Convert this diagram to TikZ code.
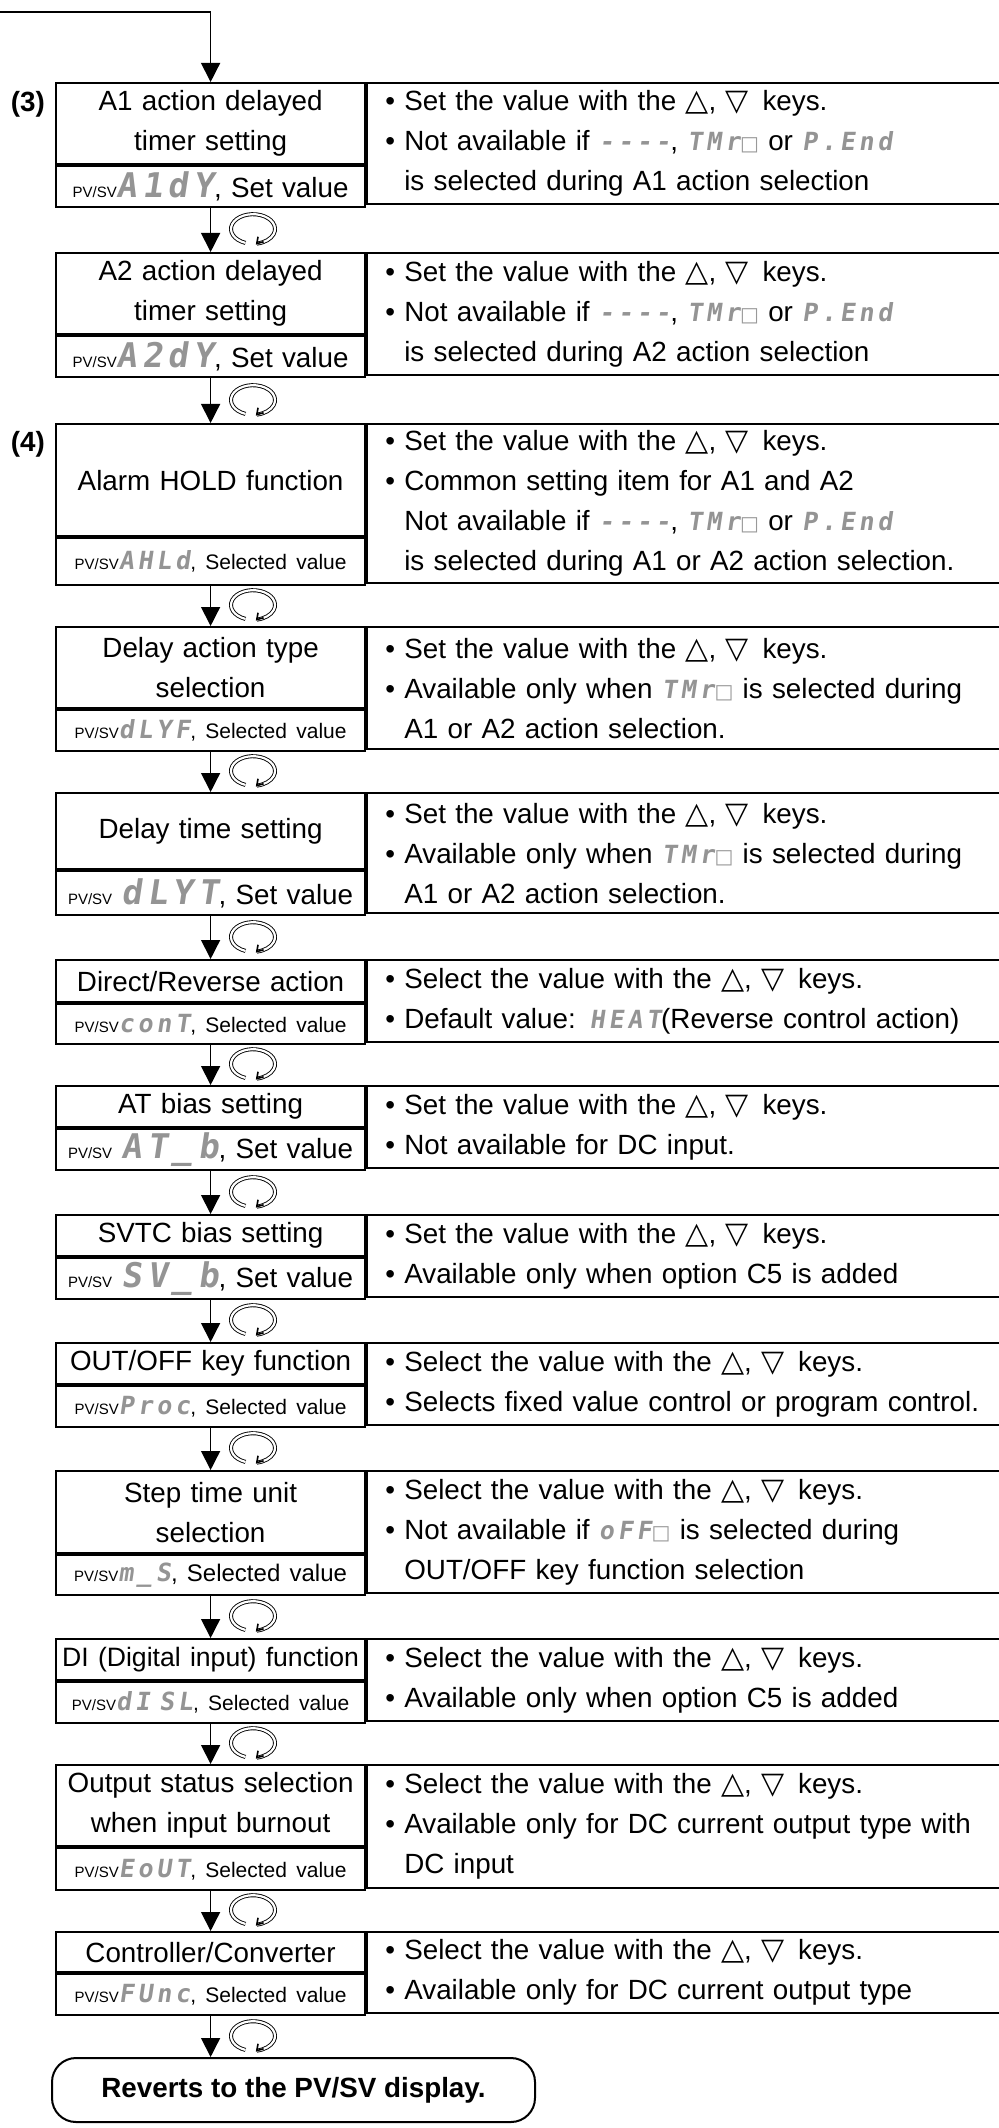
\documentclass[tikz,border=0pt]{standalone}
\usepackage{fontspec}
\setmainfont{Liberation Sans}
\newfontfamily\symfont{DejaVu Sans}
\newfontfamily\segfont[FakeSlant=0.15,LetterSpace=15]{DejaVu Sans Mono}
\usetikzlibrary{arrows.meta,positioning}

\newcommand{\pvsv}{{\fontsize{7.5}{9}\selectfont PV/SV}}
\newcommand{\segbig}[1]{{\segfont\bfseries\fontsize{17}{20}\selectfont\color{black!42}#1}}
\newcommand{\segsml}[1]{{\segfont\bfseries\fontsize{12.5}{20}\selectfont\color{black!42}#1}}
\newcommand{\segtxt}[1]{{\segfont\bfseries\fontsize{12.5}{20}\selectfont\color{black!42}#1}}
\newcommand{\blk}{{\symfont\fontsize{10}{20}\selectfont\color{black!40}□}}
\newcommand{\selval}{{\fontsize{10.5}{12}\selectfont, Selected value}}
\newcommand{\updn}{\ {\symfont\fontsize{15}{20}\selectfont △}, {\symfont\fontsize{15}{20}\selectfont ▽}\ \,}
\newcommand{\ind}{\phantom{•}\ }

\begin{document}
\begin{tikzpicture}[x=0.5pt, y=-0.5pt,
  font=\fontsize{13.9}{20}\selectfont,
  cell/.style={draw, line width=1.1pt, anchor=north west, inner sep=0pt,
    minimum width=154.5pt, text width=154.5pt, align=center},
  titlecell/.style={cell, minimum height=40.5pt},
  dispcell/.style={cell, minimum height=20.5pt},
  infocell/.style={draw, line width=1.1pt, anchor=north west, inner xsep=9pt,
    inner ysep=0pt, minimum width=323pt, text width=305pt, align=left},
  flow/.style={line width=0.75pt, -{Triangle[length=9.5pt,width=9.5pt]}},
  tag/.style={anchor=east, font=\fontsize{13.9}{20}\selectfont\bfseries},
  turn/.pic={
    \draw[line width=0.45pt, double, double distance=1.1pt]
      (250:11pt and 7.4pt) arc[start angle=250, end angle=-80, x radius=11pt, y radius=7.4pt];
    \draw[line width=0.8pt] (-80:11pt and 7.4pt) ++(0.6pt,3.4pt) -- ++(-0.6pt,-3.4pt) -- ++(3.4pt,0.9pt);
  }]
\useasboundingbox (0,0) rectangle (999,2128);

% (3) alarm delay timers
\coordinate (entry) at (0,12);
\node[tag] (n3) at (52,104) {(3)};
\node[titlecell] (t1) at (55,82) {A1 action delayed\\timer setting};
\node[dispcell] (d1) at (t1.south west) {\pvsv\segbig{A1dY}, Set value};
\node[infocell, minimum height=60.5pt] (i1) at (t1.north east)
  {• Set the value with the\updn keys.\\• Not available if \segtxt{----}, \segtxt{TMr}\blk\ or \segtxt{P.End}\\\ind is selected during A1 action selection};

\node[titlecell] (t2) at (55,252) {A2 action delayed\\timer setting};
\node[dispcell] (d2) at (t2.south west) {\pvsv\segbig{A2dY}, Set value};
\node[infocell, minimum height=61pt] (i2) at (t2.north east)
  {• Set the value with the\updn keys.\\• Not available if \segtxt{----}, \segtxt{TMr}\blk\ or \segtxt{P.End}\\\ind is selected during A2 action selection};

% (4) alarm hold and the rest
\node[tag] (n4) at (52,444) {(4)};
\node[titlecell, minimum height=56pt] (t3) at (55,423) {Alarm HOLD function};
\node[dispcell, minimum height=23.5pt] (d3) at (t3.south west) {\pvsv\segsml{AHLd}\selval};
\node[infocell, minimum height=79.5pt] (i3) at (t3.north east)
  {• Set the value with the\updn keys.\\• Common setting item for A1 and A2\\\ind Not available if \segtxt{----}, \segtxt{TMr}\blk\ or \segtxt{P.End}\\\ind is selected during A1 or A2 action selection.};

\node[titlecell] (t4) at (55,626) {Delay action type\\selection};
\node[dispcell] (d4) at (t4.south west) {\pvsv\segsml{dLYF}\selval};
\node[infocell, minimum height=61pt] (i4) at (t4.north east)
  {• Set the value with the\updn keys.\\• Available only when \segtxt{TMr}\blk\ is selected during\\\ind A1 or A2 action selection.};

\node[titlecell, minimum height=38pt] (t5) at (55,792) {Delay time setting};
\node[dispcell, minimum height=22pt] (d5) at (t5.south west) {\pvsv\ \segbig{dLYT}, Set value};
\node[infocell, minimum height=60pt] (i5) at (t5.north east)
  {• Set the value with the\updn keys.\\• Available only when \segtxt{TMr}\blk\ is selected during\\\ind A1 or A2 action selection.};

\node[titlecell, minimum height=21pt] (t6) at (55,959) {Direct/Reverse action};
\node[dispcell, minimum height=20pt] (d6) at (t6.south west) {\pvsv\segsml{conT}\selval};
\node[infocell, minimum height=41pt] (i6) at (t6.north east)
  {• Select the value with the\updn keys.\\• Default value: \segtxt{HEAT}(Reverse control action)};

\node[titlecell, minimum height=20.5pt] (t7) at (55,1085) {AT bias setting};
\node[dispcell] (d7) at (t7.south west) {\pvsv\ \segbig{AT\_b}, Set value};
\node[infocell, minimum height=41pt] (i7) at (t7.north east)
  {• Set the value with the\updn keys.\\• Not available for DC input.};

\node[titlecell, minimum height=20.5pt] (t8) at (55,1214) {SVTC bias setting};
\node[dispcell] (d8) at (t8.south west) {\pvsv\ \segbig{SV\_b}, Set value};
\node[infocell, minimum height=41pt] (i8) at (t8.north east)
  {• Set the value with the\updn keys.\\• Available only when option C5 is added};

\node[titlecell, minimum height=20.5pt] (t9) at (55,1342) {OUT/OFF key function};
\node[dispcell] (d9) at (t9.south west) {\pvsv\segsml{Proc}\selval};
\node[infocell, minimum height=41pt] (i9) at (t9.north east)
  {• Select the value with the\updn keys.\\• Selects fixed value control or program control.};

\node[titlecell, minimum height=41pt] (t10) at (55,1470) {Step time unit\\selection};
\node[dispcell, minimum height=20pt] (d10) at (t10.south west) {\pvsv\segsml{m\_S}{\fontsize{12}{14}\selectfont, Selected value}};
\node[infocell, minimum height=61pt] (i10) at (t10.north east)
  {• Select the value with the\updn keys.\\• Not available if \segtxt{oFF}\blk\ is selected during\\\ind OUT/OFF key function selection};

\node[titlecell, minimum height=20.5pt] (t11) at (55,1638) {\mbox{\fontsize{13.3}{20}\selectfont DI (Digital input) function}};
\node[dispcell] (d11) at (t11.south west) {\pvsv\segsml{dI SL}\selval};
\node[infocell, minimum height=41pt] (i11) at (t11.north east)
  {• Select the value with the\updn keys.\\• Available only when option C5 is added};

\node[titlecell] (t12) at (55,1764) {Output status selection\\when input burnout};
\node[dispcell, minimum height=21pt] (d12) at (t12.south west) {\pvsv\segsml{EoUT}\selval};
\node[infocell, minimum height=61.5pt] (i12) at (t12.north east)
  {• Select the value with the\updn keys.\\• Available only for DC current output type with\\\ind DC input};

\node[titlecell, minimum height=20pt] (t13) at (55,1931) {Controller/Converter};
\node[dispcell] (d13) at (t13.south west) {\pvsv\segsml{FUnc}\selval};
\node[infocell, minimum height=40.5pt] (i13) at (t13.north east)
  {• Select the value with the\updn keys.\\• Available only for DC current output type};

\node[draw, line width=1pt, rounded corners=12pt, anchor=north west, minimum width=241.5pt,
  minimum height=32pt, font=\fontsize{13.9}{20}\selectfont\bfseries] (rv) at (51,2057) {Reverts to the PV/SV display.};

% connectors
\draw[flow] (entry) -| (t1.north);
\foreach \a/\b in {d1/t2, d2/t3, d3/t4, d4/t5, d5/t6, d6/t7, d7/t8, d8/t9, d9/t10, d10/t11, d11/t12, d12/t13}
  \draw[flow] (\a.south) -- (\b.north);
\draw[flow] (d13.south) -- (d13.south |- rv.north);

% key icons
\foreach \y in {229,400,605,771,937,1064,1192,1320,1448,1616,1743,1910,2036}
  \pic at (253,\y) {turn};
\end{tikzpicture}
\end{document}
